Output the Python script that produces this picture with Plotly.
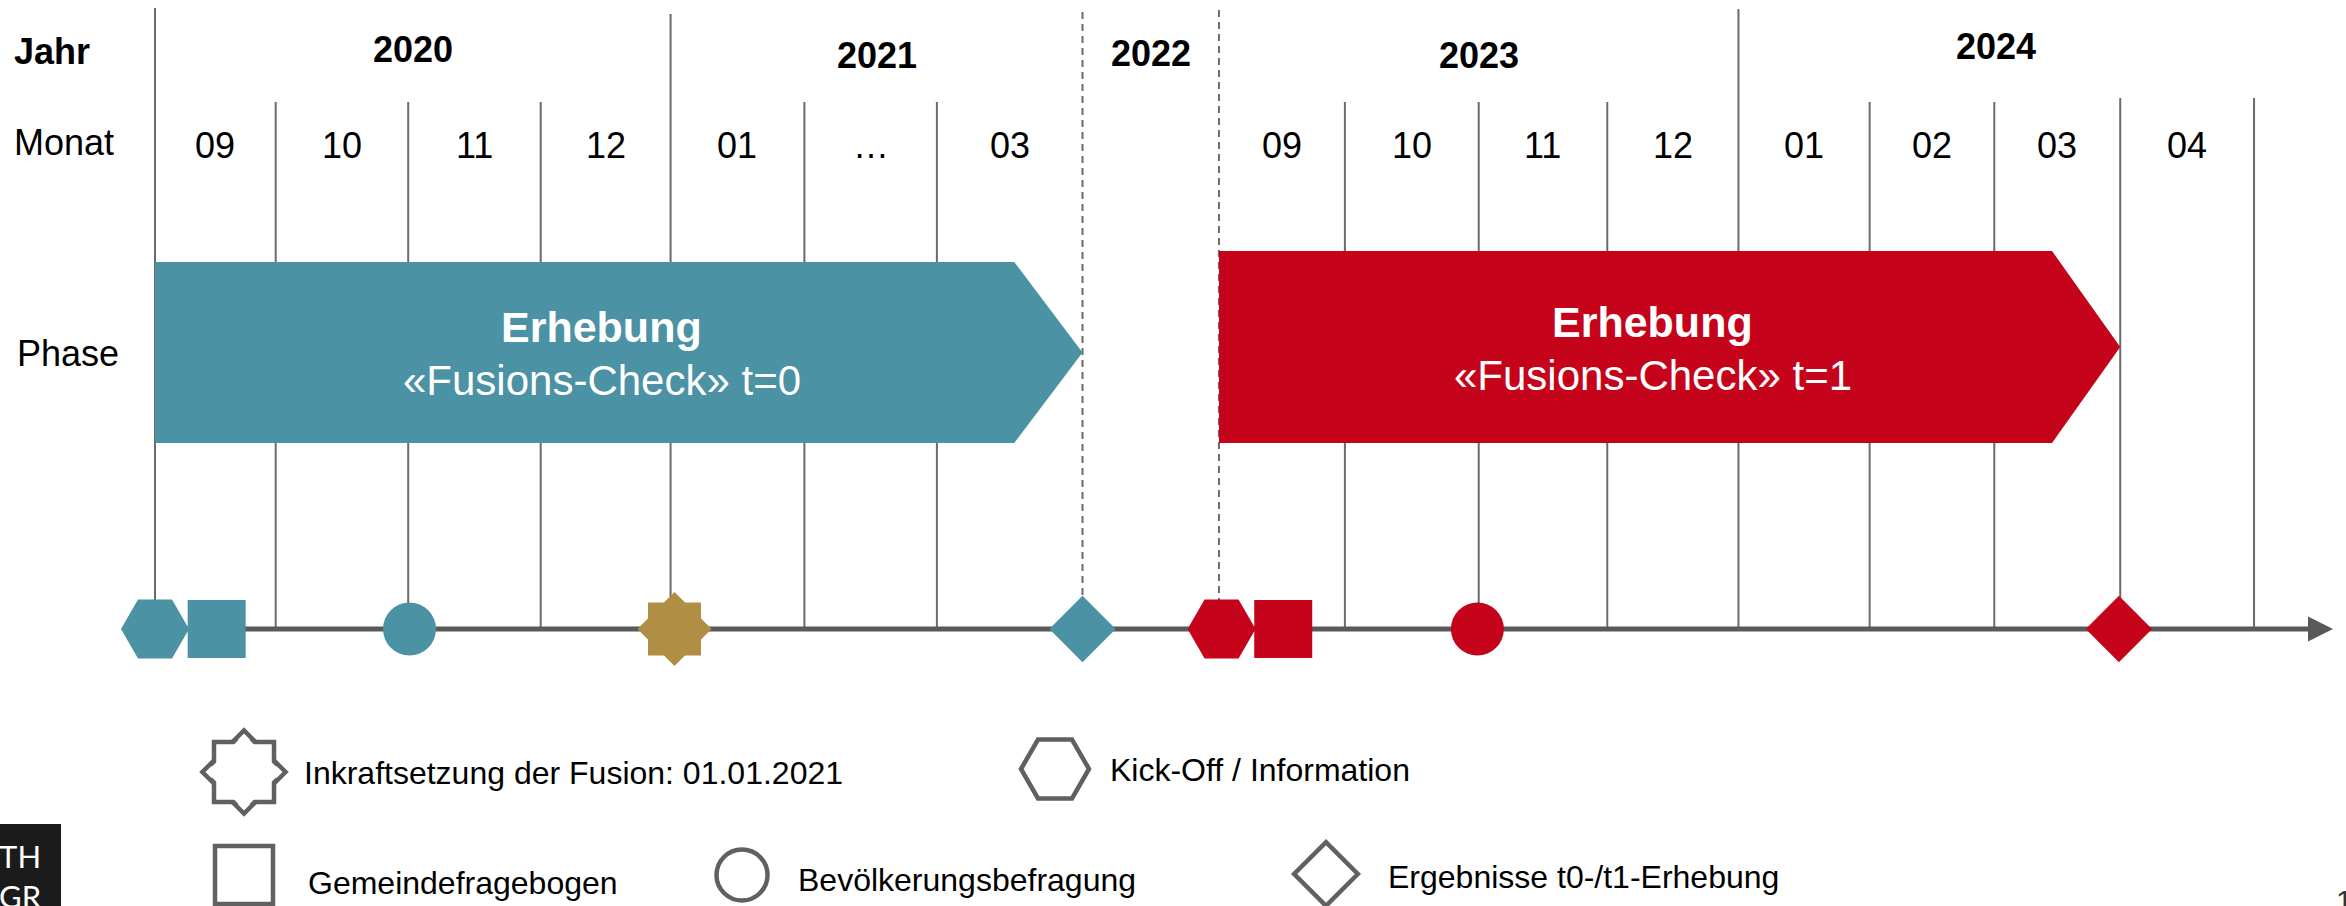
import plotly.graph_objects as go

# ----------- data -------------------------------
years = ["2020", "2021", "2022", "2023", "2024"]
year_first_col = [0, 4, 7, 8, 12]
year_last_col = [4, 7, 8, 12, 16]
months = ["09", "10", "11", "12", "01", "…", "03", "",
          "09", "10", "11", "12", "01", "02", "03", "04"]
# column borders on the time axis (unit = one month slot)
col_edges = [0, 0.92, 1.93, 2.94, 3.93, 4.95, 5.96, 7.07, 8.11,
             9.07, 10.09, 11.07, 12.07, 13.07, 14.02, 14.98, 16.0]

phase_title = ["Erhebung", "Erhebung"]
phase_sub = ["«Fusions-Check» t=0", "«Fusions-Check» t=1"]
phase_start = [0.0, 8.11]
phase_end = [7.07, 14.98]
phase_wave = ["t0", "t1"]

event_kind = ["kickoff", "fragebogen", "befragung", "fusion", "ergebnis",
              "kickoff", "fragebogen", "befragung", "ergebnis"]
event_wave = ["t0", "t0", "t0", "fusion", "t0", "t1", "t1", "t1", "t1"]
event_pos = [0.0, 0.47, 1.94, 3.96, 7.07, 8.13, 8.60, 10.08, 14.97]

legend_kind = ["fusion", "kickoff", "fragebogen", "befragung", "ergebnis"]
legend_text = ["Inkraftsetzung der Fusion: 01.01.2021", "Kick-Off / Information",
               "Gemeindefragebogen", "Bevölkerungsbefragung", "Ergebnisse t0-/t1-Erhebung"]
# -------------------------------------------------

# ---- layout / styling ----
W, H = 2346, 906
X0_PX, SLOT_PX = 155, 131.19          # where slot 0 sits and how wide a slot is


def u(px):
    # convert a page position into time-axis units
    return (px - X0_PX) / SLOT_PX


FONT = "Liberation Sans, Arial, sans-serif"
GRID = "#6b6b6b"
AXIS = "#595959"
OUTLINE = "#606060"
wave_color = {"t0": "#4A92A4", "t1": "#C5041B", "fusion": "#B08F45"}
symbol = {"kickoff": "hexagon2", "fragebogen": "square", "befragung": "circle", "ergebnis": "diamond"}
size = {"kickoff": 68, "fragebogen": 58, "befragung": 53, "ergebnis": 51}
legend_size = {"kickoff": 68, "fragebogen": 58, "befragung": 51, "ergebnis": 49}

Y_YEAR = [49, 55, 53, 55, 46]
Y_MONTH = 145
Y_LINE = 629
phase_top = [262, 251]
phase_bottom = [443, 443]
phase_text_y = [(327, 380), (322, 375)]
HEAD = 0.52
line_top = {0: 8, 4: 14, 7: 12, 8: 10, 12: 9, 15: 98, 16: 98}
dashed = {7, 8}
legend_xy = [(244, 772), (1055, 769), (244, 875), (742, 875), (1326, 874)]
legend_txt_xy = [(302, 773), (1108, 770), (306, 883), (796, 880), (1386, 877)]

fig = go.Figure()
shapes = []
annotations = []

# column separators
for i, e in enumerate(col_edges):
    shapes.append(dict(type="line", xref="x", yref="y", x0=e, x1=e,
                       y0=line_top.get(i, 102), y1=Y_LINE, layer="below",
                       line=dict(color=GRID, width=2, dash="7px,5px" if i in dashed else "solid")))

# time axis
shapes.append(dict(type="line", xref="x", yref="y", x0=u(128), x1=u(2312), y0=Y_LINE, y1=Y_LINE,
                   layer="below", line=dict(color=AXIS, width=5)))
annotations.append(dict(x=u(2333), y=Y_LINE, xref="x", yref="y", ax=-26, ay=0, text="",
                        showarrow=True, arrowhead=2, arrowsize=1, arrowwidth=5, arrowcolor=AXIS))

# phase arrows
for i in range(len(phase_title)):
    s, e = phase_start[i], phase_end[i]
    top, bot = phase_top[i], phase_bottom[i]
    mid = (top + bot) / 2
    fig.add_trace(go.Scatter(
        x=[s, e - HEAD, e, e - HEAD, s, s], y=[top, top, mid, bot, bot, top],
        mode="lines", fill="toself", fillcolor=wave_color[phase_wave[i]],
        line=dict(width=0, color=wave_color[phase_wave[i]]), hoverinfo="skip"))
    cx = (s + e - HEAD / 2) / 2
    annotations.append(dict(x=cx, y=phase_text_y[i][0], xref="x", yref="y", showarrow=False,
                            text="<b>" + phase_title[i] + "</b>",
                            font=dict(family=FONT, size=43, color="white")))
    annotations.append(dict(x=cx, y=phase_text_y[i][1], xref="x", yref="y", showarrow=False,
                            text=phase_sub[i], font=dict(family=FONT, size=42, color="white")))

# events on the time axis
for kind, wave, x in zip(event_kind, event_wave, event_pos):
    c = wave_color[wave]
    if kind == "fusion":
        for sym, sz in (("square", 53), ("diamond", 57)):
            fig.add_trace(go.Scatter(x=[x], y=[Y_LINE], mode="markers", hoverinfo="skip",
                                     marker=dict(symbol=sym, size=sz, color=c, line=dict(width=0))))
    else:
        fig.add_trace(go.Scatter(x=[x], y=[Y_LINE], mode="markers", hoverinfo="skip",
                                 marker=dict(symbol=symbol[kind], size=size[kind], color=c,
                                             line=dict(width=0))))

# legend (hand-placed, outlined symbols)
for kind, label, (lx, ly), (tx, ty) in zip(legend_kind, legend_text, legend_xy, legend_txt_xy):
    if kind == "fusion":
        for sym, sz in (("diamond", 64), ("square", 60)):
            fig.add_trace(go.Scatter(x=[u(lx)], y=[ly], mode="markers", hoverinfo="skip",
                                     marker=dict(symbol=sym, size=sz, color="white",
                                                 line=dict(width=4.5, color=OUTLINE))))
        for sym, sz in (("diamond", 57.5), ("square", 54)):
            fig.add_trace(go.Scatter(x=[u(lx)], y=[ly], mode="markers", hoverinfo="skip",
                                     marker=dict(symbol=sym, size=sz, color="white", line=dict(width=0))))
    else:
        fig.add_trace(go.Scatter(x=[u(lx)], y=[ly], mode="markers", hoverinfo="skip",
                                 marker=dict(symbol=symbol[kind], size=legend_size[kind], color="white",
                                             line=dict(width=4.5, color=OUTLINE))))
    annotations.append(dict(x=u(tx), y=ty, xref="x", yref="y", xanchor="left", showarrow=False,
                            text=label, font=dict(family=FONT, size=32, color="black")))

# row headers
for txt, x, y in (("<b>Jahr</b>", 12, 51), ("Monat", 12, 142), ("Phase", 15, 353)):
    annotations.append(dict(x=u(x), y=y, xref="x", yref="y", xanchor="left", showarrow=False,
                            text=txt, font=dict(family=FONT, size=36, color="black")))

# year labels
for i, yr in enumerate(years):
    cx = (col_edges[year_first_col[i]] + col_edges[year_last_col[i]]) / 2
    annotations.append(dict(x=cx, y=Y_YEAR[i], xref="x", yref="y", showarrow=False,
                            text="<b>" + yr + "</b>", font=dict(family=FONT, size=36, color="black")))

# month labels
for i, m in enumerate(months):
    if not m:
        continue
    cx = (col_edges[i] + col_edges[i + 1]) / 2
    annotations.append(dict(x=cx, y=Y_MONTH, xref="x", yref="y", showarrow=False,
                            text=m, font=dict(family=FONT, size=36, color="black")))

# cut-off logo bottom left and page number bottom right
shapes.append(dict(type="rect", xref="x", yref="y", x0=u(-5), x1=u(61), y0=824, y1=910,
                   fillcolor="#1b1b1b", line=dict(width=0)))
annotations.append(dict(x=u(44), y=876, xref="x", yref="y", xanchor="right", align="right",
                        showarrow=False, text="TH<br>GR",
                        font=dict(family="Lato, sans-serif", size=31, color="white")))
annotations.append(dict(x=u(2334), y=900, xref="x", yref="y", xanchor="left", showarrow=False,
                        text="1", font=dict(family=FONT, size=30, color="#333333")))

fig.update_layout(
    width=W, height=H,
    margin=dict(l=0, r=0, t=0, b=0),
    paper_bgcolor="white", plot_bgcolor="white",
    showlegend=False,
    xaxis=dict(range=[u(0), u(W)], visible=False, fixedrange=True),
    yaxis=dict(range=[H, 0], visible=False, fixedrange=True),
    shapes=shapes,
    annotations=annotations,
)

# page body has a default 8px margin; drop it so the figure sits at the corner
fig.write_html("out.html", config={"displayModeBar": False},
               post_script="document.body.style.margin = '0px';")
